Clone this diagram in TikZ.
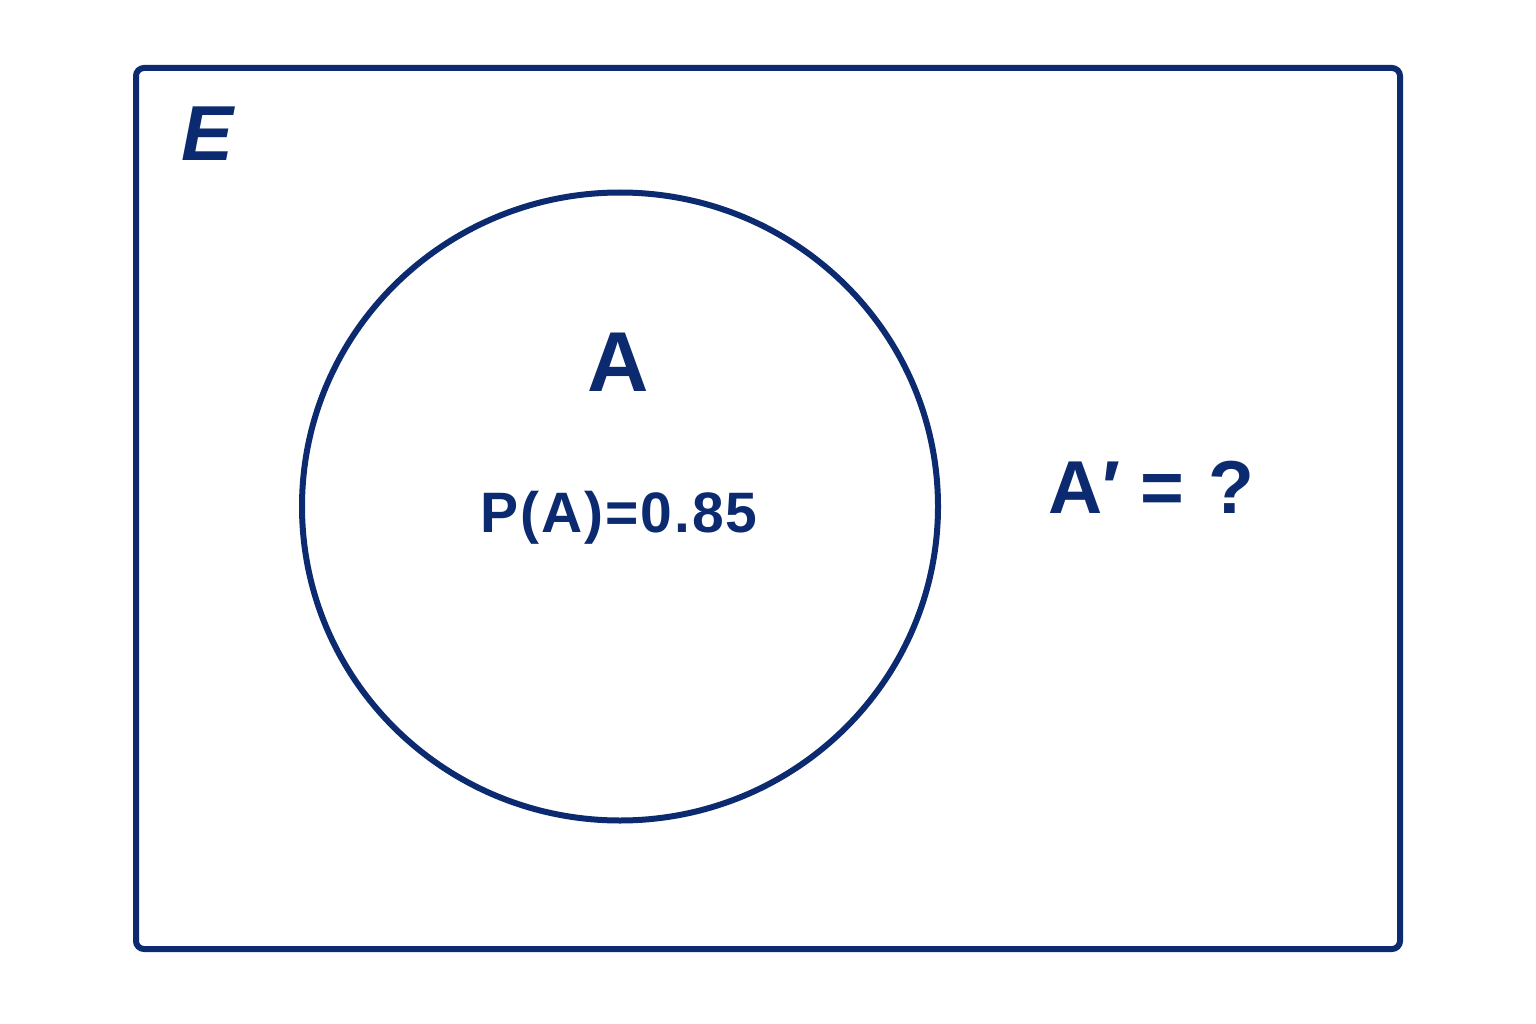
\documentclass[tikz,border=0pt]{standalone}
\usepackage{fontspec}
\setmainfont{Liberation Sans}
\definecolor{navy}{HTML}{0B2A6F}
\begin{document}
\begin{tikzpicture}[x=1pt,y=-1pt,
  outline/.style={draw=navy,line width=6pt},
  lbl/.style={text=navy,inner sep=0pt,anchor=base}]
\useasboundingbox[fill=white] (0,0) rectangle (1536,1024);
\node[outline,rounded corners=8pt,minimum width=1264pt,minimum height=881pt,inner sep=0pt] (U) at (768,508.5) {};
\draw[outline] (620,506.5) ellipse [x radius=318, y radius=314];
\node[lbl] (E) at (208,161) {\fontsize{78}{78}\selectfont\bfseries\itshape E};
\node[lbl] (A) at (618,391) {\fontsize{85}{85}\selectfont\bfseries A};
\node[lbl] (PA) at (619,532) {\fontsize{57}{57}\selectfont\addfontfeature{LetterSpace=3.5}\bfseries P(A)=0.85};
\node[lbl,anchor=base west] (Ac) at (1048,513) {\fontsize{75}{75}\selectfont\bfseries A\char"2032\hspace{20pt}=\hspace{24pt}?};
\end{tikzpicture}
\end{document}
